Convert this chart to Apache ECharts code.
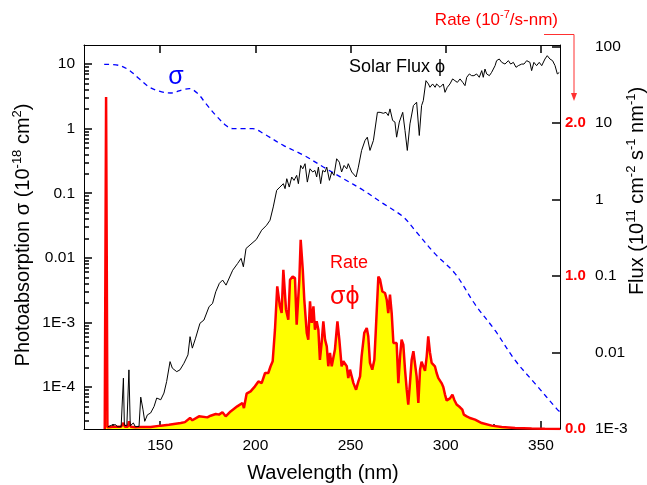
<!DOCTYPE html>
<html><head><meta charset="utf-8">
<script src="https://cdn.jsdelivr.net/npm/echarts@6/dist/echarts.min.js"></script>
<style>html,body{margin:0;padding:0;background:#fff}#c{width:647px;height:485px}</style>
</head><body><div id="c"></div>
<script>
// ---- data ----
const sigmaWl  = [120.6,128.5,133.8,139.0,144.3,149.5,155.7,161.8,165.3,169.7,174.0,179.3,184.6,188.1,193.4,198.6,204.2,214.7,225.2,235.7,246.2,256.7,267.2,277.7,283.8,294.3,304.9,315.4,325.9,336.4,346.9,358.3,360.0];
const sigmaVal = [9.9,9.5,8.0,5.9,4.4,3.8,3.56,4.0,4.16,3.5,2.44,1.6,1.12,1.0,1.0,1.0,0.84,0.55,0.39,0.255,0.168,0.111,0.069,0.043,0.0267,0.0116,0.0057,0.0019,0.00075,0.00026,0.000113,0.000046,0.000041];

const fluxWl  = [122.6,123.1,124.5,125.3,126.6,127.5,129.5,130.2,130.7,131.2,132.5,133.6,134.3,135.9,137.0,138.9,139.8,141.0,141.9,143.3,145.0,146.8,148.2,150.3,152.0,153.4,155.2,156.4,158.7,160.4,162.5,164.6,165.7,166.9,168.6,170.9,173.0,175.7,177.5,179.2,181.1,182.8,184.6,188.1,190.7,192.5,193.7,195.1,197.7,200.5,203.3,205.9,207.7,209.4,211.2,212.9,214.7,215.6,216.5,217.8,219.1,220.3,221.7,222.6,223.8,224.9,226.1,227.3,228.7,230.1,231.3,232.2,233.1,234.3,235.4,236.6,237.5,238.9,240.1,241.3,242.7,244.1,245.3,246.6,248.0,248.8,250.6,252.9,254.1,255.8,257.6,258.8,260.2,262.0,264.1,265.5,267.2,268.6,269.8,270.7,272.1,273.3,274.2,275.6,277.4,278.6,279.8,281.2,283.0,284.7,286.1,287.3,288.2,289.6,290.9,291.7,293.1,294.4,295.2,297.0,298.7,299.6,300.8,302.2,303.6,304.8,306.1,307.5,308.9,310.1,311.0,312.4,313.6,314.8,316.2,317.6,318.9,319.7,320.6,321.5,322.9,324.1,325.9,326.7,328.1,329.4,331.1,332.9,334.1,335.5,336.9,338.1,339.9,341.1,342.5,344.2,345.1,346.3,347.7,349.1,350.4,352.1,353.3,354.7,356.1,357.4,358.2,358.6,359.6];
const fluxVal = [0.00107,0.00108,0.00112,0.00107,0.00114,0.00107,0.00107,0.00112,0.00462,0.00112,0.0011,0.00593,0.0011,0.0012,0.00107,0.00108,0.00261,0.00178,0.00126,0.00153,0.00162,0.00197,0.00254,0.00241,0.00295,0.00417,0.0076,0.00624,0.00562,0.00593,0.00724,0.00931,0.0161,0.0114,0.0154,0.0241,0.0266,0.0398,0.0437,0.0622,0.0802,0.0885,0.076,0.119,0.146,0.17,0.132,0.229,0.261,0.30,0.397,0.461,0.536,0.80,1.318,1.455,1.61,1.387,1.871,1.455,1.968,1.778,2.07,1.61,2.79,2.52,2.94,1.69,2.52,2.29,2.40,1.97,2.65,1.61,2.40,2.29,2.65,1.78,2.29,2.07,3.41,3.08,2.29,2.79,2.52,2.94,2.29,1.97,2.65,4.38,5.92,6.53,4.38,5.92,13.8,13.8,13.4,13.8,12.5,15.3,10.8,10.3,6.53,10.3,13.8,7.98,4.38,9.75,16.9,18.7,6.87,16.9,19.6,35.8,32.4,29.3,32.4,29.3,32.4,29.3,32.4,25.2,29.3,32.4,37.7,35.8,34.0,37.7,34.0,30.8,39.6,43.8,41.6,41.6,43.8,39.6,48.4,39.6,50.8,43.8,41.6,46.0,56.2,65.3,68.7,62.1,59.0,65.3,59.0,62.1,53.5,56.2,59.0,59.0,65.3,62.1,48.4,62.1,56.2,62.1,56.2,68.7,75.9,68.7,65.3,56.2,53.5,43.8,45.7];

const rateWl  = [120.9,121.6,122.3,125.0,129.5,130.7,131.5,133.0,133.6,134.5,137.0,139.8,145.0,150.3,154.6,160.8,163.0,165.7,166.9,170.4,174.8,176.5,179.2,180.9,182.7,184.4,187.0,190.5,193.2,194.0,195.4,197.5,199.8,201.6,203.3,205.1,206.8,208.0,209.1,210.3,211.5,212.9,213.8,214.7,216.1,217.3,218.2,219.6,220.8,221.7,223.1,223.8,224.9,225.7,227.0,227.8,228.7,229.6,230.5,231.3,232.2,233.1,233.9,234.8,235.7,236.6,237.5,238.3,239.2,240.1,241.0,241.8,243.1,244.1,245.3,246.2,247.1,248.0,248.8,249.7,250.6,251.5,252.9,254.1,255.0,255.8,257.2,258.5,259.3,260.2,261.4,262.5,263.2,264.6,265.5,266.7,268.1,269.0,269.8,270.7,271.6,272.5,273.3,274.2,275.1,276.0,276.8,277.7,278.6,279.5,280.3,281.2,282.1,283.0,283.8,284.7,285.6,286.5,287.3,288.2,289.1,290.0,290.8,291.7,292.6,293.5,294.3,295.2,296.1,297.0,297.8,298.7,299.6,300.5,301.3,302.2,303.5,304.5,305.7,307.5,308.7,309.5,311.0,312.7,315.4,318.9,324.1,329.4,336.4,345.1,352.0,360.0];
const rateVal = [0,2.17,0.012,0.015,0.015,0.039,0.015,0.015,0.050,0.015,0.012,0.013,0.013,0.022,0.028,0.039,0.045,0.072,0.057,0.083,0.076,0.087,0.098,0.094,0.109,0.083,0.115,0.148,0.170,0.137,0.231,0.246,0.279,0.311,0.300,0.366,0.366,0.410,0.443,0.649,0.932,0.802,0.758,1.041,0.780,0.715,0.976,0.997,0.987,0.682,0.976,1.237,1.041,0.845,0.628,0.584,0.834,0.693,0.802,0.649,0.704,0.649,0.452,0.562,0.704,0.584,0.540,0.410,0.497,0.410,0.420,0.519,0.704,0.584,0.410,0.443,0.432,0.410,0.333,0.388,0.344,0.300,0.257,0.311,0.344,0.475,0.628,0.660,0.606,0.432,0.388,0.453,0.628,0.997,0.976,0.899,0.889,0.845,0.758,0.878,0.758,0.562,0.551,0.562,0.300,0.475,0.584,0.551,0.388,0.257,0.159,0.300,0.453,0.508,0.497,0.344,0.170,0.388,0.440,0.432,0.380,0.475,0.606,0.500,0.432,0.430,0.410,0.366,0.333,0.322,0.300,0.275,0.225,0.186,0.192,0.200,0.225,0.190,0.160,0.142,0.126,0.094,0.083,0.072,0.061,0.039,0.022,0.013,0.007,0.003,0.001,0.0];

const xLabels = [150,200,250,300,350];
const xMinor = [125,175,225,275,325];
const sigmaTicks = [1e-4,1e-3,0.01,0.1,1,10];
const sigmaTickLabels = ['1E-4','1E-3','0.01','0.1','1','10'];
const fluxTicks = [1e-3,0.01,0.1,1,10,100];
const fluxTickLabels = ['1E-3','0.01','0.1','1','10','100'];
const rateTicks = [0,1,2];
const rateTickLabels = ['0.0','1.0','2.0'];

// ---- helpers ----
function logMinors(lo, hi){
  const out=[];
  for(let d=-6; d<=3; d++){ for(let k=2;k<=9;k++){ const v=k*Math.pow(10,d); if(v>lo && v<hi) out.push(v);} }
  return out;
}
function logLabel(ticks, labels){
  return function(v){
    for(let i=0;i<ticks.length;i++){ if(Math.abs(Math.log10(v)-Math.log10(ticks[i]))<0.01) return labels[i]; }
    return '';
  };
}
const FONT = "'Liberation Sans', Arial, sans-serif";
const SIG_MIN = 2.24e-5, SIG_MAX = 19.7;
const FLUX_MIN = 1e-3, FLUX_MAX = 104.7;
const RATE_MAX = 2.51;
const zip = (a,b)=>a.map((x,i)=>[x,b[i]]);
const TICK_MAJOR = 8, TICK_MINOR = 5;
const tickStyle = (len, vals) => ({show:true, inside:true, length:len, customValues:vals, lineStyle:{color:'#000', width:1.5}});

const chart = echarts.init(document.getElementById('c'));
const option = {
  animation:false,
  grid:{left:84, right:87, top:45, bottom:56},
  xAxis:[
    {type:'value', min:110, max:360, position:'bottom', splitLine:{show:false},
      axisLine:{show:true,onZero:false,lineStyle:{color:'#000'}},
      axisTick:tickStyle(TICK_MAJOR, xLabels),
      axisLabel:{customValues:xLabels,color:'#000',fontSize:15.5,fontFamily:FONT,margin:9}},
    {type:'value', min:110, max:360, position:'top', splitLine:{show:false},
      axisLine:{show:true,onZero:false,lineStyle:{color:'#000'}},
      axisTick:tickStyle(TICK_MAJOR, xLabels), axisLabel:{show:false}},
    {type:'value', min:110, max:360, position:'bottom', splitLine:{show:false},
      axisLine:{show:false,onZero:false}, axisTick:tickStyle(TICK_MINOR, xMinor), axisLabel:{show:false}}
  ],
  yAxis:[
    {type:'log', min:SIG_MIN, max:SIG_MAX, position:'left', splitLine:{show:false},
      axisLine:{show:true,onZero:false,lineStyle:{color:'#000'}},
      axisTick:tickStyle(TICK_MAJOR, sigmaTicks),
      axisLabel:{customValues:sigmaTicks,formatter:logLabel(sigmaTicks,sigmaTickLabels),color:'#000',fontSize:15.5,fontFamily:FONT,margin:9}},
    {type:'log', min:FLUX_MIN, max:FLUX_MAX, position:'right', splitLine:{show:false},
      axisLine:{show:true,onZero:false,lineStyle:{color:'#000'}},
      axisTick:tickStyle(TICK_MAJOR, fluxTicks),
      axisLabel:{customValues:fluxTicks,formatter:logLabel(fluxTicks,fluxTickLabels),color:'#000',fontSize:15.5,fontFamily:FONT,margin:35}},
    {type:'value', min:0, max:RATE_MAX, position:'right', splitLine:{show:false},
      axisLine:{show:false}, axisTick:{show:false},
      axisLabel:{customValues:rateTicks,formatter:v=>rateTickLabels[rateTicks.indexOf(Math.round(v))]||'',color:'#ff0000',fontWeight:'bold',fontSize:15,fontFamily:FONT,margin:5}},
    {type:'log', min:SIG_MIN, max:SIG_MAX, position:'left', splitLine:{show:false},
      axisLine:{show:false}, axisTick:tickStyle(TICK_MINOR, logMinors(SIG_MIN,SIG_MAX)), axisLabel:{show:false}}
  ],
  series:[
    {type:'line', name:'rate', xAxisIndex:0, yAxisIndex:2, data:zip(rateWl,rateVal), symbol:'none',
      lineStyle:{color:'#ff0000',width:2.5}, areaStyle:{color:'#ffff00',opacity:1}},
    {type:'line', name:'sigma', xAxisIndex:0, yAxisIndex:0, data:zip(sigmaWl,sigmaVal), symbol:'none', smooth:0.35,
      lineStyle:{color:'#0000ff',width:1.3,type:[5,4]}},
    {type:'line', name:'flux', xAxisIndex:0, yAxisIndex:1, data:zip(fluxWl,fluxVal), symbol:'none',
      lineStyle:{color:'#000',width:1}}
  ],
  graphic:[
    {type:'text', x:23, y:235, rotation:Math.PI/2, style:{text:'Photoabsorption σ (10{s|-18} cm{s|2})', font:'20px '+FONT, fill:'#000', align:'center', verticalAlign:'middle', lineHeight:24,
      rich:{s:{fontSize:13, fontFamily:FONT, verticalAlign:'top', lineHeight:24}}}},
    {type:'text', x:637, y:191, rotation:Math.PI/2, style:{text:'Flux (10{s|11} cm{s|-2} s{s|-1} nm{s|-1})', font:'20px '+FONT, fill:'#000', align:'center', verticalAlign:'middle', lineHeight:24,
      rich:{s:{fontSize:13, fontFamily:FONT, verticalAlign:'top', lineHeight:24}}}},
    {type:'text', x:323, y:473, style:{text:'Wavelength (nm)', font:'20px '+FONT, fill:'#000', align:'center', verticalAlign:'middle'}},
    {type:'text', x:558, y:20, style:{text:'Rate (10{s|-7}/s-nm)', font:'17px '+FONT, fill:'#ff0000', align:'right', verticalAlign:'middle', lineHeight:22,
      rich:{s:{fontSize:11, fontFamily:FONT, fill:'#ff0000', verticalAlign:'top', lineHeight:22}}}},
    {type:'polyline', shape:{points:[[544,34.5],[574,34.5],[574,95]]}, style:{stroke:'#ff3030',lineWidth:1,fill:null}},
    {type:'polygon', shape:{points:[[571,93],[577,93],[574,101]]}, style:{fill:'#ff3030'}},
    {type:'text', x:176, y:77, style:{text:'σ', font:'25px '+FONT, fill:'#0000ff', align:'center', verticalAlign:'middle'}},
    {type:'text', x:349, y:67, style:{text:'Solar Flux ϕ', font:'18px '+FONT, fill:'#000', align:'left', verticalAlign:'middle'}},
    {type:'text', x:330, y:263, style:{text:'Rate', font:'18px '+FONT, fill:'#ff0000', align:'left', verticalAlign:'middle'}},
    {type:'text', x:330, y:297, style:{text:'σϕ', font:'25px '+FONT, fill:'#ff0000', align:'left', verticalAlign:'middle'}}
  ]
};
chart.setOption(option);
</script>
</body></html>
